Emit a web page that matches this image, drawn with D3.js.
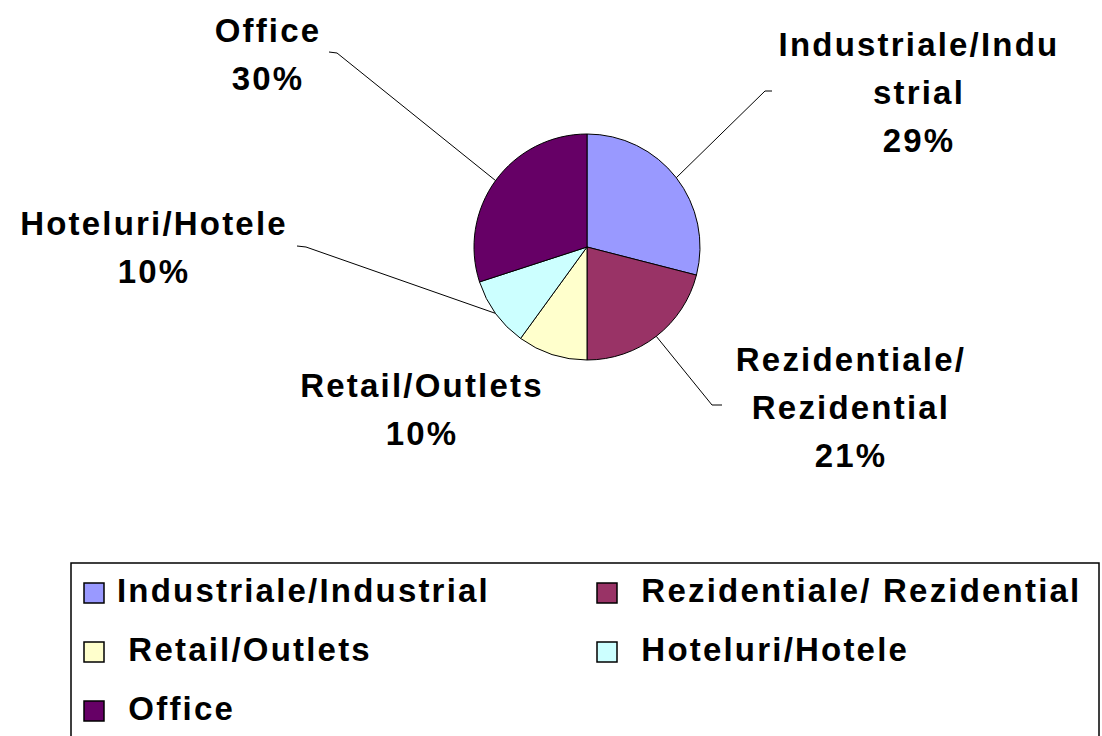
<!DOCTYPE html>
<html>
<head>
<meta charset="utf-8">
<script src="https://cdn.jsdelivr.net/npm/d3@7"></script>
<style>
  body { margin: 0; background: #fff; }
  svg text { font-family: "Liberation Sans", Arial, sans-serif; font-weight: bold; font-size: 33px; letter-spacing: 2.2px; fill: #000; }
</style>
</head>
<body>
<svg id="chart" width="1102" height="736"></svg>
<script>
// data
const categories = ["Industrial", "Rezidential", "Retail", "Hotel", "Office"];
const values = [29, 21, 10, 10, 30];
const colors = ["#9999FF", "#993366", "#FFFFCC", "#CCFFFF", "#660066"];
const labelNames = [["Industriale/Indu", "strial"], ["Rezidentiale/", "Rezidential"], ["Retail/Outlets"], ["Hoteluri/Hotele"], ["Office"]];
const legendNames = ["Industriale/Industrial", " Rezidentiale/ Rezidential", " Retail/Outlets", " Hoteluri/Hotele", " Office"];

// label layout (center x, first baseline, leader elbow + end)
const labelLayout = [
  {x: 919, y: 56, elbow: [765, 91], end: [772, 91]},
  {x: 851, y: 371, elbow: [712, 405], end: [722, 405]},
  {x: 422, y: 397, elbow: null, end: null},
  {x: 154, y: 235, elbow: [306, 247], end: [297, 246]},
  {x: 268, y: 42, elbow: [337, 53], end: [329, 52]}
];

const svg = d3.select("#chart");
const cx = 587, cy = 247, r = 113;

const pie = d3.pie().sort(null).value(d => d);
const arcs = pie(values);
const arc = d3.arc().innerRadius(0).outerRadius(r);

const g = svg.append("g").attr("transform", `translate(${cx},${cy})`);
g.selectAll("path")
  .data(arcs)
  .enter().append("path")
  .attr("d", arc)
  .attr("fill", (d, i) => colors[i])
  .attr("stroke", "#000")
  .attr("stroke-width", 1);

const total = d3.sum(values);
const pct = v => Math.round(v / total * 100) + "%";

// leader lines, from the slice mid angle on the rim
arcs.forEach((d, i) => {
  const L = labelLayout[i];
  if (!L.elbow) return;
  const a = (d.startAngle + d.endAngle) / 2;
  const p = [cx + r * Math.sin(a), cy - r * Math.cos(a)];
  svg.append("path")
    .attr("d", d3.line()([p, L.elbow, L.end]))
    .attr("fill", "none")
    .attr("stroke", "#000")
    .attr("stroke-width", 1);
});

// data labels
categories.forEach((c, i) => {
  const L = labelLayout[i];
  const lines = labelNames[i].concat([pct(values[i])]);
  const t = svg.append("text").attr("text-anchor", "middle");
  lines.forEach((s, j) => {
    t.append("tspan").attr("x", L.x).attr("y", L.y + j * 48).text(s);
  });
});

// legend
svg.append("rect")
  .attr("x", 71).attr("y", 563)
  .attr("width", 1028).attr("height", 200)
  .attr("fill", "none").attr("stroke", "#000").attr("stroke-width", 1.5);

const colX = [84, 597];
const legend = svg.append("g").selectAll("g")
  .data(categories)
  .enter().append("g")
  .attr("transform", (d, i) => `translate(${colX[i % 2]},${593 + Math.floor(i / 2) * 59})`);
legend.append("rect")
  .attr("x", 0).attr("y", -10)
  .attr("width", 20).attr("height", 20)
  .attr("fill", (d, i) => colors[i])
  .attr("stroke", "#000").attr("stroke-width", 1.5);
legend.append("text")
  .attr("x", 33).attr("y", 9)
  .attr("xml:space", "preserve")
  .style("white-space", "pre")
  .text((d, i) => legendNames[i]);
</script>
</body>
</html>
